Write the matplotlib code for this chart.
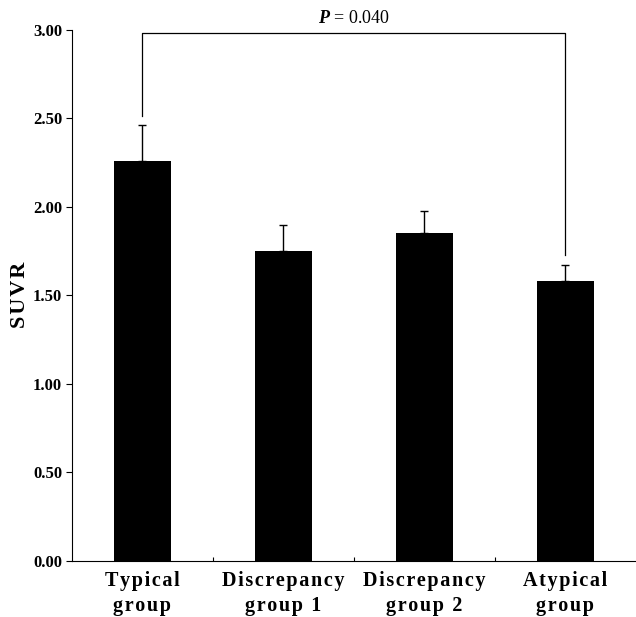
import numpy as np
import matplotlib
matplotlib.use("Agg")
import matplotlib.pyplot as plt

groups = ["Typical\ngroup", "Discrepancy\ngroup 1", "Discrepancy\ngroup 2", "Atypical\ngroup"]
suvr = [2.26, 1.75, 1.85, 1.58]
sd_up = [0.20, 0.145, 0.125, 0.09]
yticks = [0.0, 0.5, 1.0, 1.5, 2.0, 2.5, 3.0]

# bracket between group 0 and group 3
brk_y = 2.98
brk_left_end = 2.51
brk_right_end = 1.73
p_text = "$\\mathbf{\\mathit{P}}$ = 0.040"

plt.rcParams['font.family'] = ['Liberation Serif', 'DejaVu Serif']
plt.rcParams['mathtext.fontset'] = 'custom'
plt.rcParams['mathtext.it'] = 'Liberation Serif:italic:bold'
plt.rcParams['mathtext.bf'] = 'Liberation Serif:bold'


def spaced(s):
    # the original has wide letter spacing, fake it with hair spaces
    return "\n".join("\u200a".join(line) for line in s.split("\n"))


fig = plt.figure(figsize=(6.36, 6.17), dpi=100)
ax = fig.add_axes([0.113, 0.091, 0.887, 0.861])

x = np.arange(len(groups))
ax.bar(x, suvr, width=0.4, color='black', zorder=2)
ax.errorbar(x, suvr, yerr=[np.zeros(len(sd_up)), sd_up], fmt='none',
            ecolor='black', elinewidth=1.0, capsize=2.6, capthick=1.0, zorder=1)

# significance bracket
ax.plot([x[0], x[0], x[3], x[3]], [brk_left_end, brk_y, brk_y, brk_right_end],
        color='black', lw=0.9, clip_on=False)
ax.text(1.5, brk_y + 0.035, p_text, ha='center', va='bottom', fontsize=13)

ax.set_xlim(-0.5, 3.5)
ax.set_ylim(0, 3.0)
ax.set_yticks(yticks)
ax.set_yticklabels(["%.2f" % v for v in yticks], fontsize=12, fontweight='bold')
ax.set_xticks([0.5, 1.5, 2.5])
ax.set_xticklabels([])
ax.tick_params(axis='x', direction='in', length=3, width=0.8)
ax.tick_params(axis='y', direction='out', length=4, width=0.8, pad=3)

for i, g in enumerate(groups):
    ax.text(x[i], -0.06, spaced(g), ha='center', va='top', fontsize=14.5, fontweight='bold',
            linespacing=1.3)

ax.spines['top'].set_visible(False)
ax.spines['right'].set_visible(False)
ax.spines['left'].set_linewidth(0.8)
ax.spines['bottom'].set_linewidth(0.8)
ax.set_ylabel(spaced("SUVR"), fontsize=16, fontweight='bold', labelpad=2)

fig.savefig("out.png", dpi=100)
